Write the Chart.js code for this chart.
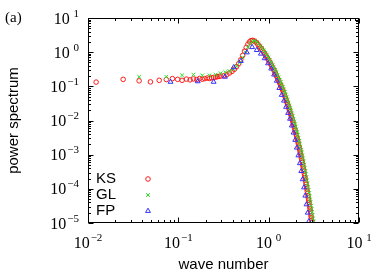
<!DOCTYPE html>
<html>
<head>
<meta charset="utf-8">
<script src="https://cdn.jsdelivr.net/npm/chart.js@4/dist/chart.umd.min.js"></script>
<style>
  html, body { margin: 0; padding: 0; background: #fff; }
  canvas { display: block; }
</style>
</head>
<body>
<canvas id="spectrum" width="376" height="273"></canvas>
<script>
// wave numbers and power spectrum
const ksK = [
  0.0123, 0.0245, 0.0368, 0.0491, 0.0614, 0.0736, 0.0859, 0.0982, 0.110, 0.123,
  0.135, 0.147, 0.160, 0.172, 0.184, 0.196, 0.209, 0.221, 0.233, 0.245,
  0.258, 0.270, 0.282, 0.294, 0.319, 0.344, 0.368, 0.393, 0.417, 0.442,
  0.466, 0.491, 0.515, 0.540, 0.564, 0.589, 0.614, 0.638, 0.663, 0.687,
  0.712, 0.736, 0.761, 0.785, 0.810, 0.834, 0.859, 0.884, 0.908, 0.933,
  0.957, 0.982, 1.006, 1.031, 1.055, 1.080, 1.104, 1.129, 1.154, 1.178,
  1.203, 1.227, 1.252, 1.276, 1.301, 1.325, 1.350, 1.374, 1.399, 1.424,
  1.448, 1.473, 1.497, 1.522, 1.546, 1.571, 1.595, 1.620, 1.644, 1.669,
  1.694, 1.718, 1.743, 1.767, 1.792, 1.816, 1.841, 1.865, 1.890, 1.914,
  1.939, 1.963, 1.988, 2.013, 2.037, 2.062, 2.086, 2.111, 2.135, 2.160,
  2.184, 2.209, 2.233, 2.258, 2.282, 2.307, 2.331, 2.356, 2.380, 2.405,
  2.430, 2.454, 2.479, 2.503, 2.528, 2.552, 2.577, 2.601, 2.626, 2.650,
  2.675, 2.699, 2.724, 2.749, 2.773, 2.798, 2.822, 2.847, 2.871, 2.896,
  2.920, 2.945, 2.969, 2.994, 3.018
];
const ksP = [
  0.133, 0.160, 0.145, 0.135, 0.150, 0.158, 0.168, 0.160, 0.150, 0.163,
  0.155, 0.165, 0.158, 0.170, 0.162, 0.168, 0.175, 0.170, 0.178, 0.182,
  0.185, 0.192, 0.195, 0.200, 0.205, 0.220, 0.245, 0.275, 0.315, 0.375,
  0.46, 0.60, 0.80, 1.07, 1.38, 1.72, 2.00, 2.18, 2.22, 2.15,
  2.02, 1.88, 1.68, 1.50, 1.36, 1.23, 1.10, 0.98, 0.88, 0.78,
  0.70, 0.625, 0.56, 0.50, 0.447, 0.398, 0.356, 0.318, 0.283, 0.25,
  0.22, 0.198, 0.176, 0.158, 0.141, 0.126, 0.112, 0.100, 0.0895, 0.0798,
  0.0714, 0.063, 0.0558, 0.0492, 0.0435, 0.0384, 0.034, 0.0299, 0.0265, 0.0233,
  0.0206, 0.0182, 0.016, 0.0142, 0.0125, 0.011, 0.0098, 0.0086, 0.0076, 0.0067,
  0.0059, 0.0052, 0.0046, 0.0040, 0.00355, 0.0031, 0.0027, 0.00236, 0.00207, 0.0018,
  0.00158, 0.00138, 0.0012, 0.00105, 0.00091, 0.00079, 0.00069, 0.00059, 0.00051, 0.00044,
  0.00038, 0.00033, 0.00028, 0.00024, 0.00021, 0.00018, 0.000155, 0.000135, 0.000115, 0.0001,
  0.000085, 0.000074, 0.000063, 0.000054, 0.000047, 0.00004, 0.000035, 0.00003, 0.000026, 0.000022,
  0.000019, 0.000016, 0.000014, 0.000012, 0.0000105
];

const glK = [
  0.0368, 0.0736, 0.110, 0.147, 0.184, 0.221, 0.258, 0.294, 0.331, 0.368,
  0.405, 0.442, 0.478, 0.515, 0.552, 0.589, 0.626, 0.662, 0.699, 0.736,
  0.773, 0.810, 0.846, 0.883, 0.920, 0.957, 0.994, 1.030, 1.067, 1.104,
  1.141, 1.178, 1.214, 1.251, 1.288, 1.325, 1.362, 1.398, 1.435, 1.472,
  1.509, 1.546, 1.582, 1.619, 1.656, 1.693, 1.730, 1.766, 1.803, 1.840,
  1.877, 1.914, 1.950, 1.987, 2.024, 2.061, 2.098, 2.134, 2.171, 2.208,
  2.245, 2.282, 2.318, 2.355, 2.392, 2.429, 2.466, 2.502, 2.539, 2.576,
  2.613, 2.650, 2.686, 2.723, 2.760, 2.797, 2.834, 2.870, 2.907, 2.944,
  2.981, 3.018, 3.054, 3.091, 3.128
];
const glP = [
  0.19, 0.19, 0.21, 0.22, 0.21, 0.21, 0.22, 0.24, 0.26, 0.28,
  0.32, 0.39, 0.50, 0.70, 1.00, 1.40, 1.80, 2.05, 2.15, 2.0,
  1.78, 1.52, 1.33, 1.13, 0.96, 0.81, 0.69, 0.59, 0.50, 0.42,
  0.36, 0.305, 0.257, 0.215, 0.183, 0.155, 0.131, 0.112, 0.0946, 0.0805,
  0.068, 0.0566, 0.0474, 0.0398, 0.0331, 0.0275, 0.0231, 0.0194, 0.0161, 0.0134,
  0.0112, 0.0094, 0.00785, 0.00655, 0.00546, 0.00457, 0.00376, 0.0031, 0.00254, 0.00209,
  0.00171, 0.0014, 0.00116, 0.00095, 0.00078, 0.00063, 0.000506, 0.000413, 0.000333, 0.000268,
  0.000216, 0.000175, 0.000142, 0.000115, 0.0000925, 0.000075, 0.00006, 0.000049, 0.00004, 0.000032,
  0.0000258, 0.0000209, 0.000017, 0.0000135, 0.000011
];

const fpK = [
  0.082, 0.164, 0.246, 0.328, 0.410, 0.492, 0.574, 0.656, 0.738, 0.820,
  0.902, 0.984, 1.066, 1.148, 1.230, 1.312, 1.394, 1.476, 1.558, 1.640,
  1.722, 1.804, 1.886, 1.968, 2.050, 2.132, 2.214, 2.296, 2.378, 2.460,
  2.542, 2.624, 2.706, 2.788
];
const fpP = [
  0.135, 0.14, 0.135, 0.19, 0.36, 0.55, 0.98, 1.40, 1.15, 0.90,
  0.66, 0.47, 0.33, 0.22, 0.145, 0.089, 0.056, 0.038, 0.025, 0.0166,
  0.0112, 0.0071, 0.0044, 0.0027, 0.0016, 0.00095, 0.00056, 0.00033, 0.00019, 0.00011,
  0.000063, 0.000035, 0.00002, 0.0000112
];

const seriesNames = ['KS', 'GL', 'FP'];
const xMajor = [0.01, 0.1, 1, 10];
const xExp = ['\u22122', '\u22121', ' 0', ' 1'];
const yMajor = [0.00001, 0.0001, 0.001, 0.01, 0.1, 1, 10];
const yExp = ['\u22125', '\u22124', '\u22123', '\u22122', '\u22121', ' 0', ' 1'];

const SANS = '"Liberation Sans", Arial, sans-serif';
const SERIF = '"Liberation Serif", "Times New Roman", serif';

const colors = ['rgb(255,30,30)', 'rgb(40,225,40)', 'rgb(50,50,255)'];
const styles = ['circle', 'crossRot', 'triangle'];
const radii = [2.3, 2.6, 2.8];

function pts(ks, ps) {
  return ks.map((k, i) => ({ x: k, y: ps[i] }));
}

// "10" with a raised exponent, the way gnuplot writes log ticks
function powerLabel(c, exp, x, yc, align) {
  c.font = '16px ' + SERIF;
  const wb = c.measureText('10').width;
  c.font = '11px ' + SERIF;
  const we = c.measureText(exp).width;
  const total = wb + 1 + we;
  const x0 = align === 'right' ? x - total : x - total / 2;
  c.textAlign = 'left';
  c.textBaseline = 'alphabetic';
  c.fillStyle = '#000';
  c.font = '16px ' + SERIF;
  c.fillText('10', x0, yc + 5.5);
  c.font = '11px ' + SERIF;
  c.fillText(exp, x0 + wb + 1, yc - 1.5);
}

const framePlugin = {
  id: 'frame',
  beforeDraw(chart) {
    const c = chart.ctx;
    c.save();
    c.fillStyle = '#fff';
    c.fillRect(0, 0, chart.width, chart.height);
    c.restore();
  },
  afterDatasetsDraw(chart) {
    const c = chart.ctx, a = chart.chartArea;
    const xs = chart.scales.x, ys = chart.scales.y;
    const L = Math.round(a.left) + 0.5, R = Math.round(a.right) - 0.5;
    const T = Math.round(a.top) + 0.5, B = Math.round(a.bottom) - 0.5;
    c.save();
    c.strokeStyle = '#000';
    c.lineWidth = 1;
    c.strokeRect(L, T, R - L, B - T);

    c.beginPath();
    const xTick = (v, len) => {
      const px = Math.round(xs.getPixelForValue(v)) + 0.5;
      c.moveTo(px, B); c.lineTo(px, B - len);
      c.moveTo(px, T); c.lineTo(px, T + len);
    };
    const yTick = (v, len) => {
      const py = Math.round(ys.getPixelForValue(v)) + 0.5;
      c.moveTo(L, py); c.lineTo(L + len, py);
      c.moveTo(R, py); c.lineTo(R - len, py);
    };
    xMajor.forEach((v, i) => {
      xTick(v, 5);
      if (i < xMajor.length - 1) for (let m = 2; m < 10; m++) xTick(v * m, 2.5);
    });
    yMajor.forEach((v, i) => {
      yTick(v, 5);
      if (i < yMajor.length - 1) for (let m = 2; m < 10; m++) yTick(v * m, 2.5);
    });
    c.stroke();

    xMajor.forEach((v, i) => powerLabel(c, xExp[i], xs.getPixelForValue(v), 242, 'center'));
    yMajor.forEach((v, i) => powerLabel(c, yExp[i], 79, ys.getPixelForValue(v), 'right'));

    // axis titles
    c.fillStyle = '#000';
    c.font = '15px ' + SANS;
    c.textAlign = 'center';
    c.textBaseline = 'middle';
    c.fillText('wave number', (a.left + a.right) / 2, 265);
    c.save();
    c.translate(14, (a.top + a.bottom) / 2);
    c.rotate(-Math.PI / 2);
    c.fillText('power spectrum', 0, 0);
    c.restore();

    c.font = '15px ' + SERIF;
    c.textAlign = 'left';
    c.fillText('(a)', 5, 18);

    // key
    seriesNames.forEach((name, i) => {
      const y = 179 + i * 16;
      c.font = '15px ' + SANS;
      c.fillStyle = '#000';
      c.textAlign = 'left';
      c.fillText(name, 96, y);
      c.strokeStyle = colors[i];
      c.fillStyle = 'rgba(0,0,0,0)';
      c.lineWidth = 1;
      Chart.helpers.drawPoint(c, { pointStyle: styles[i], radius: radii[i], borderWidth: 1, rotation: 0 }, 148, y);
    });
    c.restore();
  }
};

const datasets = [
  { label: 'FP', data: pts(fpK, fpP), idx: 2, order: 0 },
  { label: 'GL', data: pts(glK, glP), idx: 1, order: 1 },
  { label: 'KS', data: pts(ksK, ksP), idx: 0, order: 2 }
].map(d => ({
  label: d.label,
  data: d.data,
  order: d.order,
  showLine: false,
  clip: 0,
  pointStyle: styles[d.idx],
  pointRadius: radii[d.idx],
  pointBorderWidth: 1,
  pointBorderColor: colors[d.idx],
  pointBackgroundColor: 'rgba(0,0,0,0)',
  pointHoverRadius: radii[d.idx]
}));

new Chart(document.getElementById('spectrum'), {
  type: 'scatter',
  data: { datasets: datasets },
  options: {
    responsive: false,
    animation: false,
    devicePixelRatio: 1,
    layout: { padding: { left: 88, right: 17, top: 18, bottom: 50 } },
    plugins: { legend: { display: false }, tooltip: { enabled: false } },
    scales: {
      x: { type: 'logarithmic', min: 0.01, max: 10, display: false },
      y: { type: 'logarithmic', min: 0.00001, max: 10, display: false }
    }
  },
  plugins: [framePlugin]
});
</script>
</body>
</html>
